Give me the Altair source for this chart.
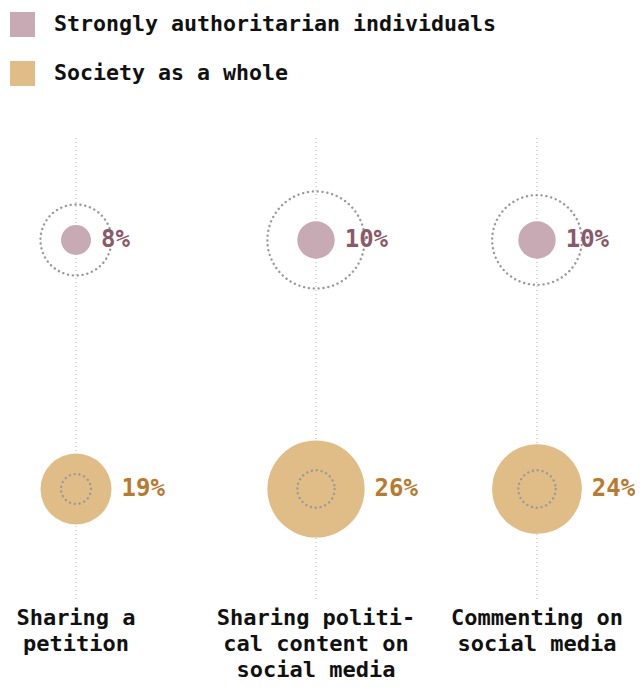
import math
import altair as alt
import pandas as pd

# ---- data ----
categories = ["Sharing a petition",
              "Sharing political content on social media",
              "Commenting on social media"]
category_labels = ["Sharing a\npetition",
                   "Sharing politi-\ncal content on\nsocial media",
                   "Commenting on\nsocial media"]
groups = ["Strongly authoritarian individuals", "Society as a whole"]
authoritarian = [8, 10, 10]
society = [19, 26, 24]

# ---- styles ----
FONT = "DejaVu Sans Mono"
fill_colors = ["#c8aab4", "#e0bd86"]
text_colors = ["#8b5a6a", "#b97a2e"]
ring_color = "#9a9a9a"
rule_color = "#b0b0b0"

rows = []
for i, cat in enumerate(categories):
    a, s = authoritarian[i], society[i]
    rows.append(dict(idx=i, category=cat, group=groups[0], value=a, other=s, pct=f"{a}%"))
    rows.append(dict(idx=i, category=cat, group=groups[1], value=s, other=a, pct=f"{s}%"))
df = pd.DataFrame(rows)
cat_df = pd.DataFrame(dict(idx=list(range(len(categories))), category=categories,
                           label=category_labels))

x_scale = alt.Scale(domain=[0, 1, 2], range=[68, 308, 529])
y_scale = alt.Scale(type="point", domain=groups, range=[232, 481], padding=0)
vmax = 26
max_radius = 48.6
# Vega circle symbol: radius = sqrt(size) / 2
size_scale = alt.Scale(type="pow", exponent=2, domain=[0, vmax], nice=False,
                       range=[0, (2 * max_radius) ** 2])

X = alt.X("idx:Q", scale=x_scale, axis=None)
Y = alt.Y("group:N", scale=y_scale, axis=None)

rules = alt.Chart(cat_df).mark_rule(color=rule_color, strokeDash=[1, 3], strokeWidth=1).encode(
    x=X, y=alt.value(130), y2=alt.value(592))

circles = alt.Chart(df).mark_circle(opacity=1).encode(
    x=X, y=Y,
    size=alt.Size("value:Q", scale=size_scale, legend=None),
    color=alt.Color("group:N", scale=alt.Scale(domain=groups, range=fill_colors),
                    legend=alt.Legend(orient="none", legendX=2, legendY=4, title=None,
                                      symbolType="square", symbolSize=625,
                                      symbolStrokeWidth=0, symbolOpacity=1,
                                      labelFont=FONT, labelFontSize=21.6,
                                      labelFontWeight="bold", labelColor="#111",
                                      labelOffset=19, rowPadding=24, padding=0,
                                      labelLimit=600)),
)

rings = alt.Chart(df).mark_point(shape="circle", filled=False, stroke=ring_color,
                                 strokeWidth=2.4, strokeDash=[0.1, 4.8], strokeCap="round",
                                 opacity=1).encode(
    x=X, y=Y,
    size=alt.Size("other:Q", scale=size_scale, legend=None),
)

pct = alt.Chart(df).mark_text(align="left", baseline="middle", font=FONT, fontSize=24,
                              fontWeight="bold").encode(
    x=X, y=Y,
    theta=alt.value(math.pi / 2),
    radius=alt.Radius("value:Q", scale=alt.Scale(type="linear", domain=[0, vmax], nice=False,
                                                 range=[10, 10 + max_radius], zero=False)),
    text="pct:N",
    color=alt.Color("group:N", scale=alt.Scale(domain=groups, range=text_colors), legend=None),
)

labels = alt.Chart(cat_df).mark_text(align="center", baseline="top", font=FONT, fontSize=22,
                                     fontWeight="bold", lineBreak="\n", lineHeight=26,
                                     color="#111").encode(
    x=X, y=alt.value(600), text="label:N")

chart = alt.layer(rules, circles, rings, pct, labels).resolve_scale(
    color="independent"
).properties(
    width=627, height=673, padding=0, autosize=alt.AutoSizeParams(type="none")
).configure_view(stroke=None)

chart.save("out.html", embed_options={"renderer": "svg", "actions": False})
